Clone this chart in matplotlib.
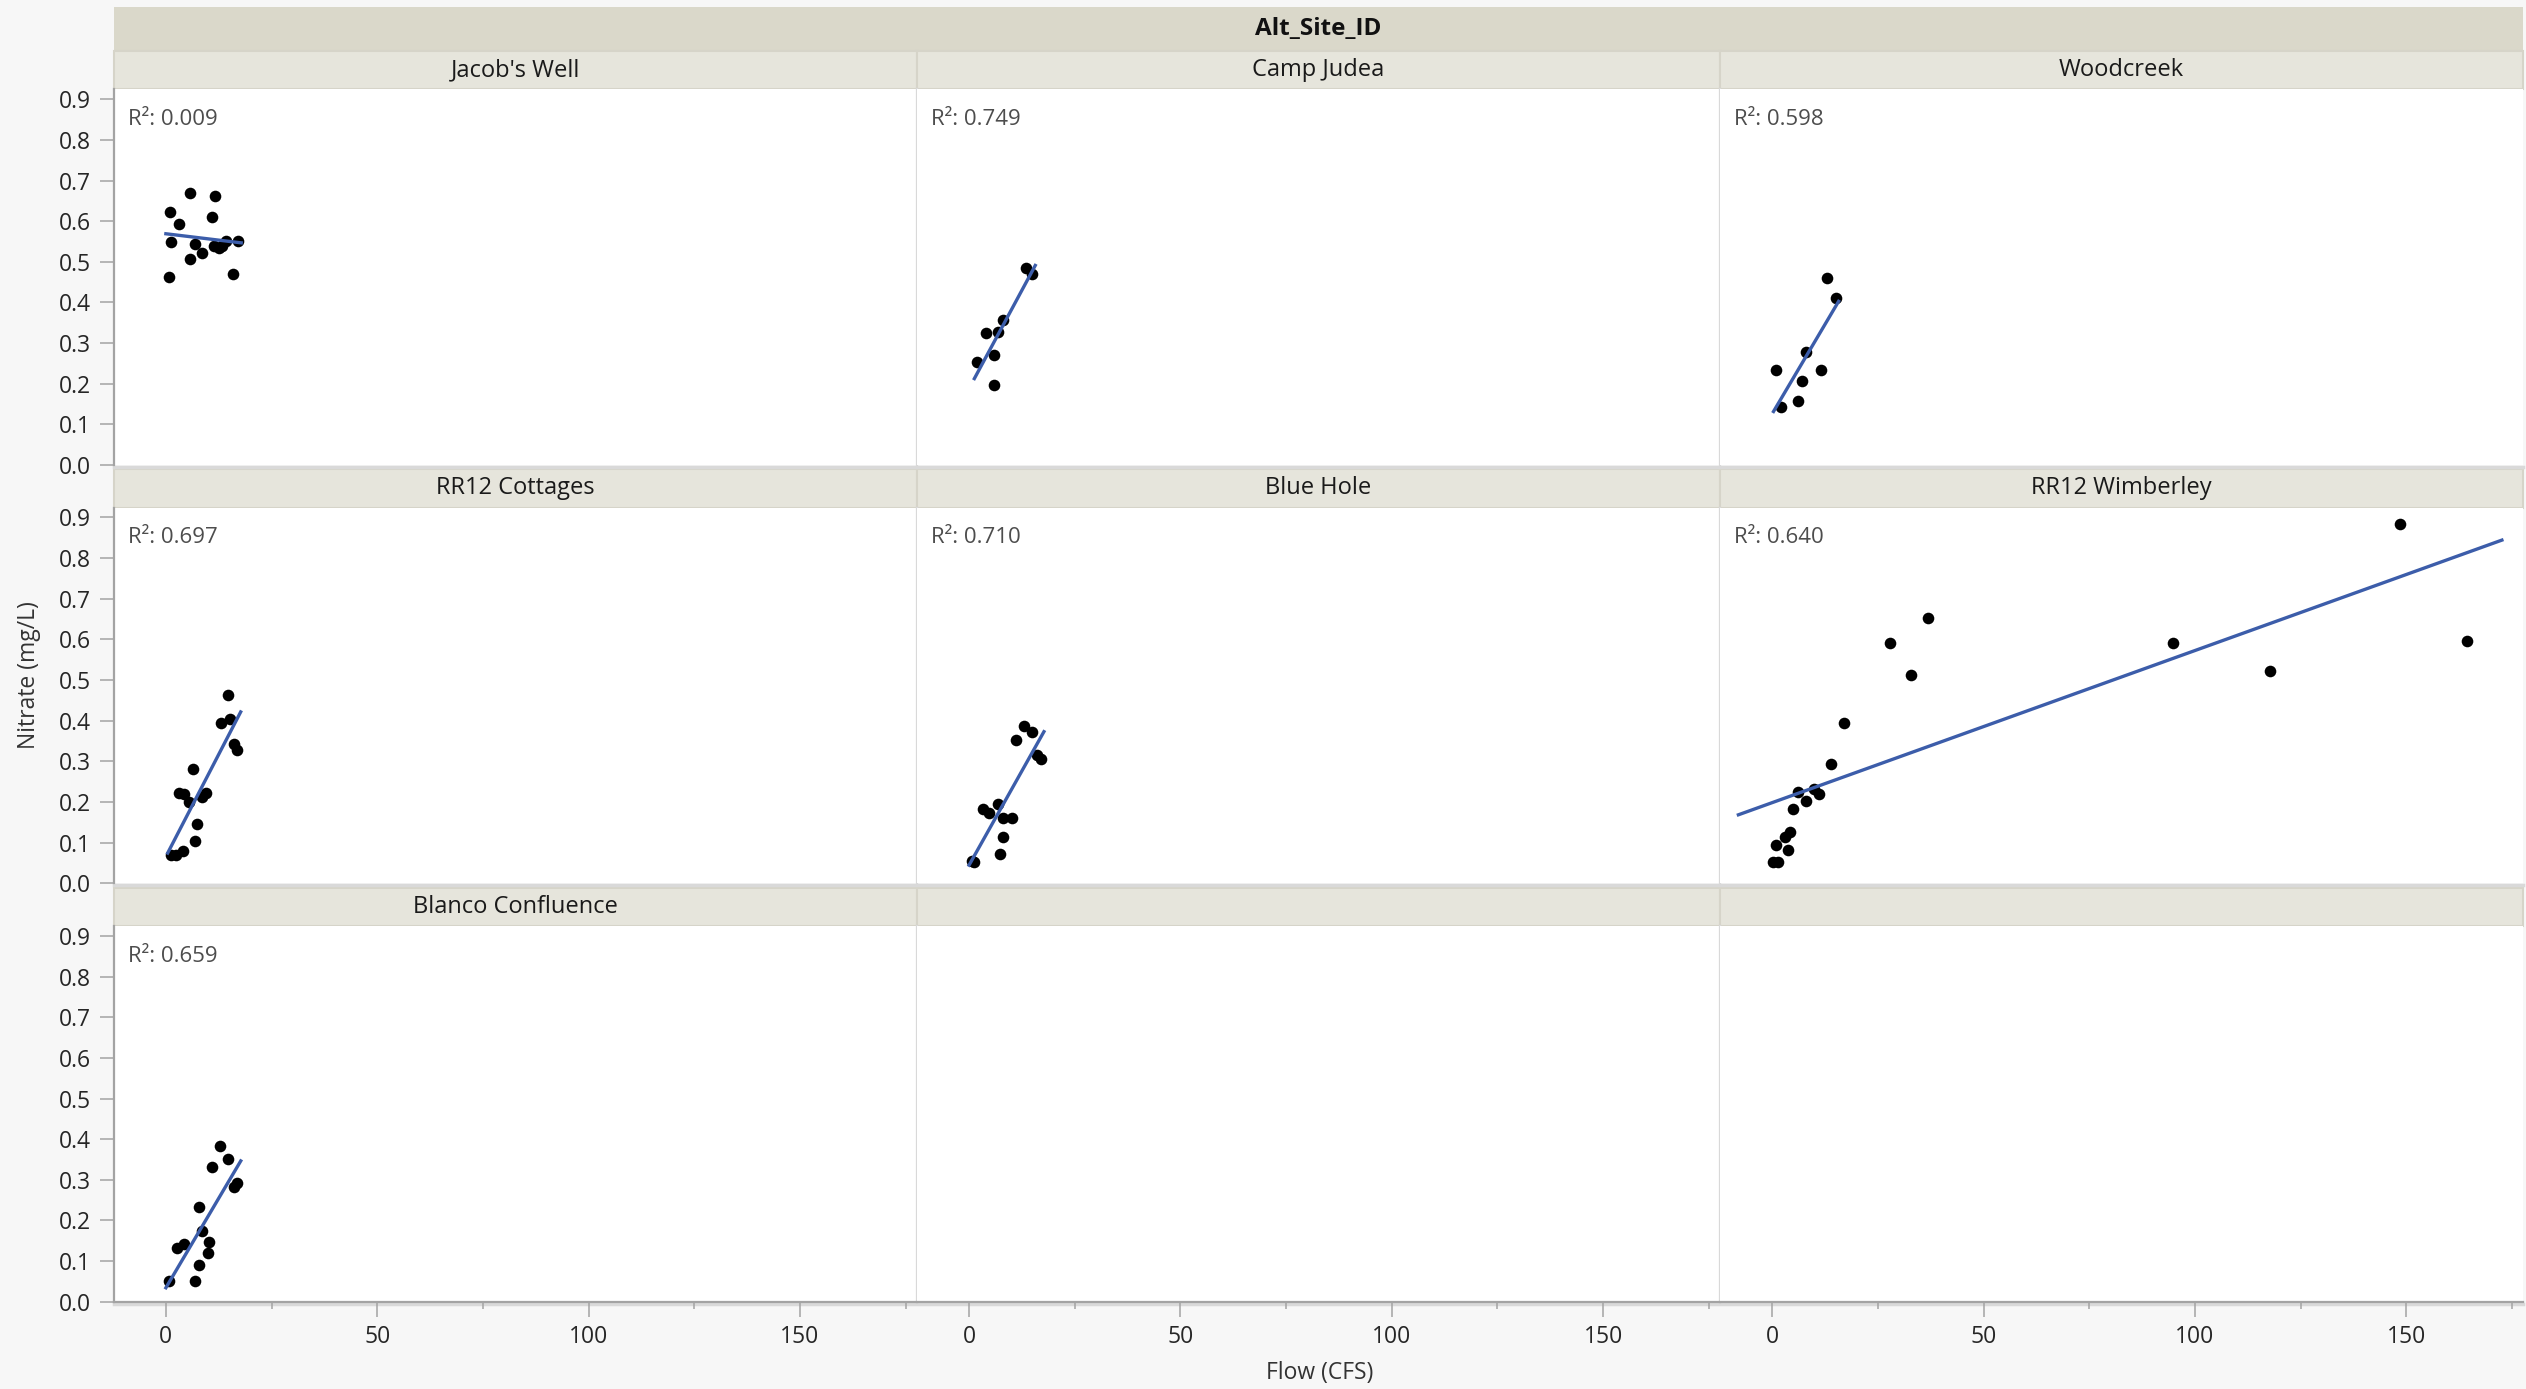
import numpy as np
import matplotlib.pyplot as plt
from matplotlib.patches import Rectangle

plt.rcParams['font.family'] = ['Open Sans', 'DejaVu Sans']

# ---- data ----
sites = ["Jacob's Well", 'Camp Judea', 'Woodcreek',
         'RR12 Cottages', 'Blue Hole', 'RR12 Wimberley',
         'Blanco Confluence']
r2_labels = ['0.009', '0.749', '0.598', '0.697', '0.710', '0.640', '0.659']

jacobs_flow = [5.7, 11.7, 1.0, 10.9, 3.0, 1.2, 6.9, 11.3, 13.3, 14.3, 17.0, 8.5, 5.7, 0.8, 15.9, 12.5]
jacobs_no3 = [0.670, 0.661, 0.623, 0.611, 0.593, 0.549, 0.545, 0.538, 0.538, 0.552, 0.552, 0.522, 0.508, 0.462, 0.470, 0.535]

judea_flow = [13.4, 15.0, 8.0, 6.9, 3.9, 5.9, 1.9, 5.9]
judea_no3 = [0.484, 0.470, 0.358, 0.328, 0.324, 0.270, 0.254, 0.197]

woodcreek_flow = [12.9, 15.0, 7.9, 1.0, 11.6, 7.0, 6.0, 2.0]
woodcreek_no3 = [0.461, 0.411, 0.279, 0.234, 0.235, 0.207, 0.157, 0.143]

cottages_flow = [14.8, 13.0, 15.1, 16.0, 16.9, 6.4, 3.0, 4.2, 9.4, 8.5, 5.5, 7.3, 6.8, 4.1, 1.2, 2.3]
cottages_no3 = [0.462, 0.393, 0.403, 0.342, 0.329, 0.282, 0.223, 0.220, 0.223, 0.213, 0.200, 0.145, 0.104, 0.080, 0.069, 0.070]

bluehole_flow = [13.1, 15.0, 11.1, 16.1, 16.9, 3.2, 4.6, 6.9, 8.0, 10.1, 8.0, 7.3, 1.2, 0.8]
bluehole_no3 = [0.387, 0.372, 0.352, 0.315, 0.305, 0.182, 0.172, 0.194, 0.161, 0.161, 0.114, 0.071, 0.051, 0.054]

wimberley_flow = [148.6, 164.4, 94.7, 117.7, 36.9, 27.9, 32.8, 17.0, 13.9, 9.9,
                  11.1, 6.1, 8.1, 4.9, 4.3, 2.9, 1.0, 3.8, 0.2, 1.4]
wimberley_no3 = [0.883, 0.596, 0.592, 0.522, 0.652, 0.592, 0.512, 0.393, 0.293, 0.233,
                 0.219, 0.225, 0.202, 0.182, 0.125, 0.114, 0.093, 0.082, 0.052, 0.052]

blanco_flow = [12.9, 14.8, 10.9, 16.9, 16.0, 7.9, 8.5, 10.3, 4.2, 2.7, 10.0, 7.9, 6.8, 0.8]
blanco_no3 = [0.382, 0.351, 0.331, 0.292, 0.282, 0.233, 0.173, 0.148, 0.143, 0.132, 0.121, 0.091, 0.052, 0.052]

flows = [jacobs_flow, judea_flow, woodcreek_flow, cottages_flow,
         bluehole_flow, wimberley_flow, blanco_flow]
nitrates = [jacobs_no3, judea_no3, woodcreek_no3, cottages_no3,
            bluehole_no3, wimberley_no3, blanco_no3]

# ---- layout (pixels) ----
W, H = 2526, 1389
X0, X3 = 113.5, 2523
col_w = (X3 - X0) / 3
plot_tops = [89.3, 507.5, 926]
plot_h = 375.7
strip_h = 38.5

band_col = '#DAD8CA'
strip_col = '#E6E5DC'
grid_col = '#D9D9D9'
axis_col = '#A3A3A3'
fit_col = '#3C5DAA'

fig = plt.figure(figsize=(W / 100, H / 100), dpi=100, facecolor='#F7F7F7')

bg = fig.add_axes([0, 0, 1, 1])
bg.set_xlim(0, W)
bg.set_ylim(H, 0)
bg.axis('off')

# outer header band
bg.add_patch(Rectangle((X0, 7.3), X3 - X0, 43.4, fc=band_col, ec='none'))
bg.text((X0 + X3) / 2, 29, 'Alt_Site_ID', ha='center', va='center',
        fontsize=17.5, fontweight='bold', color='#111111')

for r in range(3):
    top = plot_tops[r]
    # light border under each row
    bg.plot([X0, X3], [top + plot_h + 2, top + plot_h + 2], color=grid_col, lw=2.5)
    for c in range(3):
        i = r * 3 + c
        x_left = X0 + c * col_w
        bg.add_patch(Rectangle((x_left, top - strip_h), col_w, strip_h,
                               fc=strip_col, ec='#D6D4C9', lw=1.5))
        if i < len(sites):
            bg.text(x_left + col_w / 2, top - strip_h / 2, sites[i],
                    ha='center', va='center', fontsize=17, color='#1A1A1A')

        ax = fig.add_axes([x_left / W, 1 - (top + plot_h) / H, col_w / W, plot_h / H])
        ax.set_facecolor('white')
        ax.set_xlim(-12.4, 177.6)
        ax.set_ylim(0, 0.9245)
        ax.spines['top'].set_visible(False)
        ax.spines['right'].set_color(grid_col)
        ax.spines['right'].set_linewidth(1.6)
        ax.spines['right'].set_visible(c < 2)
        ax.spines['left'].set_visible(c == 0)
        ax.spines['left'].set_color(axis_col)
        ax.spines['left'].set_linewidth(1.6)
        ax.spines['bottom'].set_visible(r == 2)
        ax.spines['bottom'].set_color(axis_col)
        ax.spines['bottom'].set_linewidth(1.6)

        if c == 0:
            ax.set_yticks(np.arange(0, 0.95, 0.1))
            ax.set_yticklabels([f'{v:.1f}' for v in np.arange(0, 0.95, 0.1)])
            ax.tick_params(axis='y', length=10, width=1.1, color=axis_col,
                           labelsize=16.5, labelcolor='#262626', pad=6)
        else:
            ax.set_yticks([])
        if r == 2:
            ax.set_xticks([0, 50, 100, 150])
            ax.set_xticks([25, 75, 125, 175], minor=True)
            ax.tick_params(axis='x', which='major', length=10.5, width=1.1,
                           color=axis_col, labelsize=16.5, labelcolor='#262626', pad=6)
            ax.tick_params(axis='x', which='minor', length=5, width=1.1, color=axis_col)
        else:
            ax.set_xticks([])

        if i >= len(sites):
            continue
        x = np.array(flows[i])
        y = np.array(nitrates[i])
        ax.scatter(x, y, s=70, color='black', linewidths=0, zorder=3)
        coef = np.polyfit(x, y, 1)
        span = x.max() - x.min()
        xs = np.array([x.min() - 0.05 * span, x.max() + 0.05 * span])
        ax.plot(xs, np.polyval(coef, xs), color=fit_col, lw=2.4, zorder=4)
        ax.text(14 / col_w, 1 - 30 / plot_h, 'R²: ' + r2_labels[i],
                transform=ax.transAxes, ha='left', va='center',
                fontsize=16, color='#4D4D4D')

fig.text(29 / W, 1 - 675 / H, 'Nitrate (mg/L)', rotation=90, ha='center',
         va='center', fontsize=16.5, color='#333333')
fig.text(1320 / W, 1 - 1373 / H, 'Flow (CFS)', ha='center', va='center',
         fontsize=16.5, color='#333333')

fig.savefig('out.png', dpi=100, facecolor=fig.get_facecolor())
